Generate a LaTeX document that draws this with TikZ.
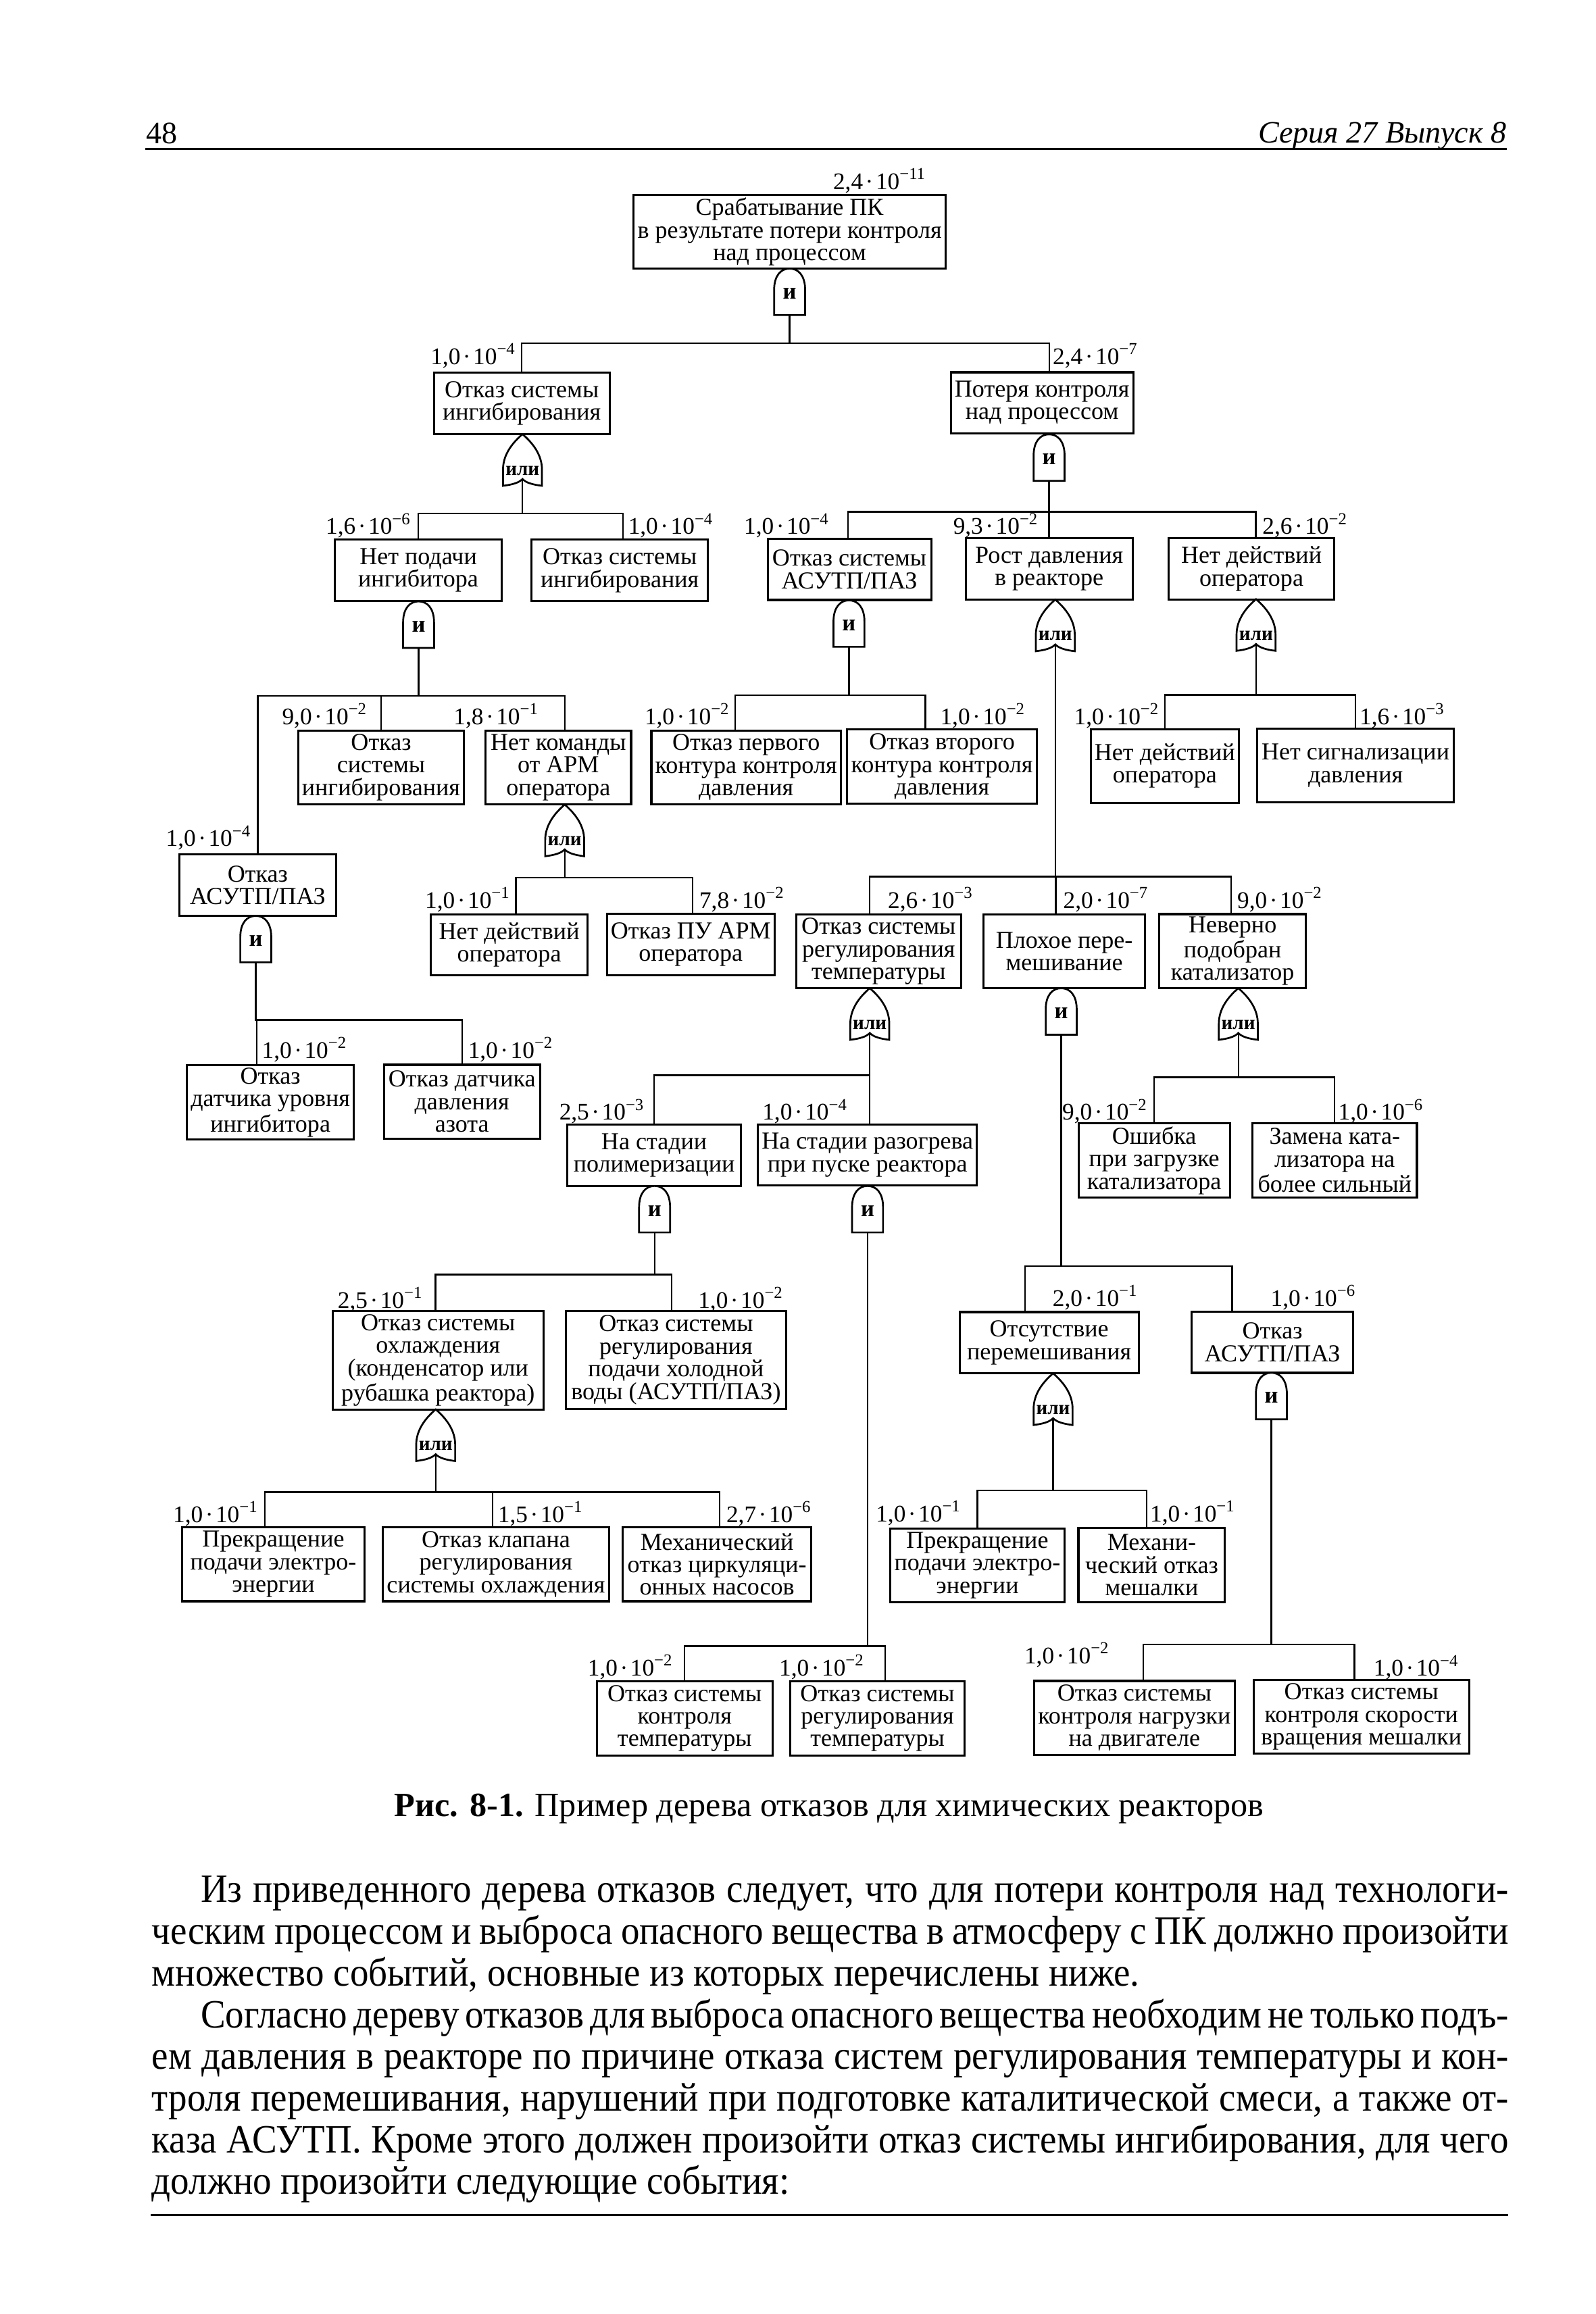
\documentclass[tikz,border=0pt]{standalone}
\usepackage{fontspec}
\setmainfont{Liberation Serif}
\newfontfamily\condfont[FakeStretch=0.925]{Liberation Serif}
\usetikzlibrary{calc}
\newcommand{\boxfont}{\fontsize{9.4}{8.7}\selectfont}
\newcommand{\probfont}{\fontsize{9.2}{10}\selectfont}
\newcommand{\headfont}{\fontsize{12}{14}\selectfont}
\newcommand{\pv}[2]{#1\kern.1em·\kern.1em10\textsuperscript{−#2}}
\tikzset{
  event/.style={draw,line width=0.8pt,fill=white,align=center,inner xsep=1.5pt,inner ysep=0pt,font=\boxfont},
  ev2/.style={event,minimum height=0.83cm},
  ev3/.style={event,minimum height=1.0cm},
  ev4/.style={event,minimum height=1.33cm},
  bw/.style={minimum width=#1*0.02cm},
  prob/.style={inner sep=0pt,font=\probfont},
  conn/.style={line width=0.6pt},
  rulel/.style={line width=0.9pt},
  gateline/.style={line width=0.7pt,fill=white},
  gatetext/.style={inner sep=0pt,font=\bfseries\fontsize{9}{9}\selectfont},
  headtext/.style={inner sep=0pt,font=\headfont},
  bodyline/.style={inner sep=0pt,font=\condfont\fontsize{15.5}{16}\selectfont},
  andgate/.pic={
    \draw[gateline] (-10.5,0) -- (-10.5,-17) .. controls (-10.5,-27) and (-5.8,-31.5) .. (0,-31.5)
      .. controls (5.8,-31.5) and (10.5,-27) .. (10.5,-17) -- (10.5,0) -- cycle;
    \node[gatetext] at (0,-14.5) {и};
    \coordinate (-out) at (0,0);
  },
  orgate/.pic={
    \draw[gateline] (-13.2,0) -- (-13.2,-11) .. controls (-13.2,-21) and (-7,-29) .. (0,-35)
      .. controls (7,-29) and (13.2,-21) .. (13.2,-11) -- (13.2,0)
      .. controls (7,-0.8) and (2.5,-2) .. (0,-4.6) .. controls (-2.5,-2) and (-7,-0.8) .. (-13.2,0) -- cycle;
    \node[gatetext,font=\bfseries\fontsize{7.6}{8}\selectfont] at (0,-10.3) {или};
    \coordinate (-out) at (0,-4.6);
  },
}

\begin{document}
\begin{tikzpicture}[x=0.02cm,y=-0.02cm]
  \fill[white] (0,0) rectangle (1081,1568);
  \useasboundingbox (0,0) rectangle (1081,1568);

  % running head
  \node[headtext,anchor=base west] (pgno) at (98.9,97.3) {48};
  \node[headtext,anchor=base east,font=\headfont\itshape] (series) at (1021,96.8) {Серия 27 Выпуск 8};
  \draw[rulel] (98.6,100.9) -- (1021,100.9);

  % events
  \node[ev3,bw=204] (top) at (535,157.1) {Срабатывание ПК\\в результате потери контроля\\над процессом};
  \node[ev2,bw=119] (inh) at (353.5,273.3) {Отказ системы\\ингибирования};
  \node[ev2,bw=122] (loss) at (706,273) {Потеря контроля\\над процессом};
  \node[ev2,bw=113] (nofeed) at (283.4,386.5) {Нет подачи\\ингибитора};
  \node[ev2,bw=119.4] (inhb) at (419.9,386.5) {Отказ системы\\ингибирования};
  \node[ev2,bw=110.8] (apcsa) at (575.5,385.8) {Отказ системы\\АСУТП/ПАЗ};
  \node[ev2,bw=113] (press) at (710.8,385.5) {Рост давления\\в реакторе};
  \node[ev2,bw=112.4] (noopa) at (847.9,385.4) {Нет действий\\оператора};
  \node[ev3,bw=112] (inhc) at (258.2,520) {Отказ\\системы\\ингибирования};
  \node[ev3,bw=98.6] (nocmd) at (378.3,520) {Нет команды\\от АРМ\\оператора};
  \node[ev3,bw=123.7] (loopa) at (505.5,520) {Отказ первого\\контура контроля\\давления};
  \node[ev3,bw=125.3] (loopb) at (638.2,519.4) {Отказ второго\\контура контроля\\давления};
  \node[ev3,bw=99.6] (noopb) at (789.2,519) {Нет действий\\оператора};
  \node[ev3,bw=133.2] (noalarm) at (918.4,518.8) {Нет сигнализации\\давления};
  \node[ev2,bw=105.9] (apcsb) at (174.6,599.8) {Отказ\\АСУТП/ПАЗ};
  \node[ev2,bw=105.9] (noopc) at (345,640.3) {Нет действий\\оператора};
  \node[ev2,bw=111.7] (pu) at (468,640.1) {Отказ ПУ АРМ\\оператора};
  \node[ev3,bw=111.7] (tempreg) at (595.3,644.7) {Отказ системы\\регулирования\\температуры};
  \node[ev3,bw=109.2] (mixbad) at (721.1,644.7) {Плохое пере-\\мешивание};
  \node[ev3,bw=99.6] (catbad) at (835.1,644.4) {Неверно\\подобран\\катализатор};
  \node[ev3,bw=113] (senslvl) at (183.2,746.9) {Отказ\\датчика уровня\\ингибитора};
  \node[ev3,bw=105.9] (sensn2) at (313,746.5) {Отказ датчика\\давления\\азота};
  \node[ev2,bw=117.9] (poly) at (443.2,782.9) {На стадии\\полимеризации};
  \node[ev2,bw=144.2] (heat) at (587.7,782.6) {На стадии разогрева\\при пуске реактора};
  \node[ev3,bw=102.5] (catload) at (782,786.3) {Ошибка\\при загрузке\\катализатора};
  \node[ev3,bw=111.4] (catrepl) at (904.3,786.3) {Замена ката-\\лизатора на\\более сильный};
  \node[ev4,bw=142.9] (cool) at (296.8,921.8) {Отказ системы\\охлаждения\\(конденсатор или\\рубашка реактора)};
  \node[ev4,bw=149.3] (water) at (458,921.5) {Отказ системы\\регулирования\\подачи холодной\\воды (АСУТП/ПАЗ)};
  \node[ev2,bw=121.4] (nomix) at (710.8,909.8) {Отсутствие\\перемешивания};
  \node[ev2,bw=109.2] (apcsc) at (862.1,909.5) {Отказ\\АСУТП/ПАЗ};
  \node[ev3,bw=123.9] (powa) at (185.2,1060) {Прекращение\\подачи электро-\\энергии};
  \node[ev3,bw=152.9] (valve) at (336,1060) {Отказ клапана\\регулирования\\системы охлаждения};
  \node[ev3,bw=127.5] (pump) at (485.8,1060) {Механический\\отказ циркуляци-\\онных насосов};
  \node[ev3,bw=117.2] (powb) at (662.2,1060.6) {Прекращение\\подачи электро-\\энергии};
  \node[ev3,bw=99.3] (mech) at (780.3,1060.5) {Механи-\\ческий отказ\\мешалки};
  \node[ev3,bw=118.8] (tctl) at (463.9,1164.4) {Отказ системы\\контроля\\температуры};
  \node[ev3,bw=117.9] (treg) at (594.5,1164.4) {Отказ системы\\регулирования\\температуры};
  \node[ev3,bw=134.2] (load) at (768.6,1164) {Отказ системы\\контроля нагрузки\\на двигателе};
  \node[ev3,bw=145.8] (speed) at (922.4,1163.4) {Отказ системы\\контроля скорости\\вращения мешалки};

  % gates
  \pic (gtop) at (535,213.5) {andgate};
  \pic (ginh) at (354,329.2) {orgate};
  \pic (gloss) at (710.8,325.8) {andgate};
  \pic (gnofeed) at (283.6,439) {andgate};
  \pic (gapcsa) at (575.2,438.3) {andgate};
  \pic (gpress) at (715,441.3) {orgate};
  \pic (gnoopa) at (851,441) {orgate};
  \pic (gnocmd) at (382.6,580.2) {orgate};
  \pic (gapcsb) at (173.3,652.1) {andgate};
  \pic (gtempreg) at (589.3,704.6) {orgate};
  \pic (gmixbad) at (719,701.1) {andgate};
  \pic (gcatbad) at (839,704.6) {orgate};
  \pic (gpoly) at (443.5,835.1) {andgate};
  \pic (gheat) at (587.8,835.1) {andgate};
  \pic (gcool) at (295.2,990) {orgate};
  \pic (gnomix) at (713.5,965.6) {orgate};
  \pic (gapcsc) at (861.4,961.7) {andgate};

  % junctions
  \coordinate (jtop) at (535,232.5);
  \coordinate (jinh) at (354,347.8);
  \coordinate (jloss) at (710.8,346.8);
  \coordinate (jnofeed) at (283.6,471.6);
  \coordinate (japcsa) at (575.2,471.1);
  \coordinate (jnoopa) at (851,470.8);
  \coordinate (jnocmd) at (382.6,594.6);
  \coordinate (jpress) at (715,594);
  \coordinate (japcsb) at (173.3,691);
  \coordinate (jtempreg) at (589.3,728.6);
  \coordinate (jcatbad) at (839,730);
  \coordinate (jpoly) at (443.5,863.6);
  \coordinate (jmixbad) at (719,858);
  \coordinate (jcool) at (295.2,1011.1);
  \coordinate (jnomix) at (713.5,1009.9);
  \coordinate (jheat) at (587.8,1115.5);
  \coordinate (japcsc) at (861.4,1114.4);

  % connectors
  \draw[conn] (gtop-out) -- (jtop) -| (inh.north);
  \draw[conn] (gtop-out) -- (jtop) -| ($(loss.north)+(5,0)$);
  \draw[conn] (ginh-out) -- (jinh) -| (nofeed.north);
  \draw[conn] (ginh-out) -- (jinh) -| ($(inhb.north)+(2.2,0)$);
  \draw[conn] (gloss-out) -- (jloss) -| ($(apcsa.north)+(-0.8,0)$);
  \draw[conn] (gloss-out) -- (jloss) -| (press.north);
  \draw[conn] (gloss-out) -- (jloss) -| ($(noopa.north)+(2.9,0)$);
  \draw[conn] (gnofeed-out) -- (jnofeed) -| (apcsb.north);
  \draw[conn] (gnofeed-out) -- (jnofeed) -| (inhc.north);
  \draw[conn] (gnofeed-out) -- (jnofeed) -| ($(nocmd.north)+(4.3,0)$);
  \draw[conn] (gapcsa-out) -- (japcsa) -| ($(loopa.north)+(-7.3,0)$);
  \draw[conn] (gapcsa-out) -- (japcsa) -| ($(loopb.north)+(-11.2,0)$);
  \draw[conn] (gnoopa-out) -- (jnoopa) -| (noopb.north);
  \draw[conn] (gnoopa-out) -- (jnoopa) -| (noalarm.north);
  \draw[conn] (gnocmd-out) -- (jnocmd) -| ($(noopc.north)+(4.6,0)$);
  \draw[conn] (gnocmd-out) -- (jnocmd) -| ($(pu.north)+(1.3,0)$);
  \draw[conn] (gpress-out) -- (jpress) -| ($(tempreg.north)+(-6.2,0)$);
  \draw[conn] (gpress-out) -- (jpress) -| ($(mixbad.north)+(-5.8,0)$);
  \draw[conn] (gpress-out) -- (jpress) -| ($(catbad.north)+(-1,0)$);
  \draw[conn] (gapcsb-out) -- (japcsb) -| ($(senslvl.north)+(-9.3,0)$);
  \draw[conn] (gapcsb-out) -- (japcsb) -| (sensn2.north);
  \draw[conn] (gtempreg-out) -- (jtempreg) -| (poly.north);
  \draw[conn] (gtempreg-out) -- (jtempreg) -| ($(heat.north)+(1.4,0)$);
  \draw[conn] (gcatbad-out) -- (jcatbad) -| (catload.north);
  \draw[conn] (gcatbad-out) -- (jcatbad) -| (catrepl.north);
  \draw[conn] (gpoly-out) -- (jpoly) -| ($(cool.north)+(-1.8,0)$);
  \draw[conn] (gpoly-out) -- (jpoly) -| ($(water.north)+(-3.1,0)$);
  \draw[conn] (gmixbad-out) -- (jmixbad) -| ($(nomix.north)+(-16.3,0)$);
  \draw[conn] (gmixbad-out) -- (jmixbad) -| ($(apcsc.north)+(-27.3,0)$);
  \draw[conn] (gcool-out) -- (jcool) -| ($(powa.north)+(-5.8,0)$);
  \draw[conn] (gcool-out) -- (jcool) -| ($(valve.north)+(-2.2,0)$);
  \draw[conn] (gcool-out) -- (jcool) -| ($(pump.north)+(1.8,0)$);
  \draw[conn] (gnomix-out) -- (jnomix) -| (powb.north);
  \draw[conn] (gnomix-out) -- (jnomix) -| ($(mech.north)+(-3.3,0)$);
  \draw[conn] (gheat-out) -- (jheat) -| (tctl.north);
  \draw[conn] (gheat-out) -- (jheat) -| ($(treg.north)+(5.2,0)$);
  \draw[conn] (gapcsc-out) -- (japcsc) -| ($(load.north)+(6.1,0)$);
  \draw[conn] (gapcsc-out) -- (japcsc) -| ($(speed.north)+(-4.8,0)$);

  % probabilities
  \node[prob,anchor=base east] (ptop) at (628,128.3) {\pv{2,4}{11}};
  \node[prob,anchor=base east] (pinh) at (350,247) {\pv{1,0}{4}};
  \node[prob,anchor=base west] (ploss) at (713,247) {\pv{2,4}{7}};
  \node[prob,anchor=base east] (pnofeed) at (279,362) {\pv{1,6}{6}};
  \node[prob,anchor=base west] (pinhb) at (425.3,362) {\pv{1,0}{4}};
  \node[prob,anchor=base east] (papcsa) at (562.4,362) {\pv{1,0}{4}};
  \node[prob,anchor=base east] (ppress) at (704.1,362) {\pv{9,3}{2}};
  \node[prob,anchor=base west] (pnoopa) at (855,362) {\pv{2,6}{2}};
  \node[prob,anchor=base east] (pinhc) at (249.4,491) {\pv{9,0}{2}};
  \node[prob,anchor=base east] (pnocmd) at (365.6,491) {\pv{1,8}{1}};
  \node[prob,anchor=base east] (ploopa) at (495,491) {\pv{1,0}{2}};
  \node[prob,anchor=base west] (ploopb) at (636.7,491) {\pv{1,0}{2}};
  \node[prob,anchor=base east] (pnoopb) at (786,491) {\pv{1,0}{2}};
  \node[prob,anchor=base west] (pnoalarm) at (920.8,491) {\pv{1,6}{3}};
  \node[prob,anchor=base east] (papcsb) at (170.7,573.5) {\pv{1,0}{4}};
  \node[prob,anchor=base east] (pnoopc) at (346.3,615.3) {\pv{1,0}{1}};
  \node[prob,anchor=base west] (ppu) at (473.5,615.3) {\pv{7,8}{2}};
  \node[prob,anchor=base west] (ptempreg) at (601.3,615.3) {\pv{2,6}{3}};
  \node[prob,anchor=base west] (pmixbad) at (720.1,615.3) {\pv{2,0}{7}};
  \node[prob,anchor=base west] (pcatbad) at (838,615.3) {\pv{9,0}{2}};
  \node[prob,anchor=base west] (psenslvl) at (177.1,717) {\pv{1,0}{2}};
  \node[prob,anchor=base west] (psensn2) at (316.8,717) {\pv{1,0}{2}};
  \node[prob,anchor=base east] (ppoly) at (437.2,759) {\pv{2,5}{3}};
  \node[prob,anchor=base west] (pheat) at (516.2,759) {\pv{1,0}{4}};
  \node[prob,anchor=base east] (pcatload) at (778,759) {\pv{9,0}{2}};
  \node[prob,anchor=base west] (pcatrepl) at (906.4,759) {\pv{1,0}{6}};
  \node[prob,anchor=base west] (pcool) at (228.5,886.4) {\pv{2,5}{1}};
  \node[prob,anchor=base east] (pwater) at (531.3,886.4) {\pv{1,0}{2}};
  \node[prob,anchor=base east] (pnomix) at (771.5,885) {\pv{2,0}{1}};
  \node[prob,anchor=base east] (papcsc) at (919.2,885) {\pv{1,0}{6}};
  \node[prob,anchor=base east] (ppowa) at (175.5,1031.5) {\pv{1,0}{1}};
  \node[prob,anchor=base west] (pvalve) at (337,1031.5) {\pv{1,5}{1}};
  \node[prob,anchor=base west] (ppump) at (491.8,1031.5) {\pv{2,7}{6}};
  \node[prob,anchor=base east] (ppowb) at (651.7,1031) {\pv{1,0}{1}};
  \node[prob,anchor=base west] (pmech) at (778.9,1031) {\pv{1,0}{1}};
  \node[prob,anchor=base east] (ptctl) at (456.5,1135.5) {\pv{1,0}{2}};
  \node[prob,anchor=base east] (ptreg) at (586.2,1135.5) {\pv{1,0}{2}};
  \node[prob,anchor=base east] (pload) at (752.3,1127.4) {\pv{1,0}{2}};
  \node[prob,anchor=base east] (pspeed) at (988.9,1135.8) {\pv{1,0}{4}};

  % caption
  \node[inner sep=0pt,anchor=base,font=\fontsize{13.1}{16}\selectfont] (caption) at (561.8,1231)
    {\textbf{Рис. 8-1.} Пример дерева отказов для химических реакторов};

  % body text
  \node[bodyline,anchor=base west] (lna) at (135.7,1289.1) {\makebox[17.726cm][s]{Из приведенного дерева отказов следует, что для потери контроля над технологи-}};
  \node[bodyline,anchor=base west] (lnb) at (102.6,1317.4) {\makebox[18.388cm][s]{ческим процессом и выброса опасного вещества в атмосферу с ПК должно произойти}};
  \node[bodyline,anchor=base west] (lnc) at (102.6,1345.6) {множество событий, основные из которых перечислены ниже.};
  \node[bodyline,anchor=base west] (lnd) at (135.7,1373.9) {\makebox[17.726cm][s]{Согласно дереву отказов для выброса опасного вещества необходим не только подъ-}};
  \node[bodyline,anchor=base west] (lne) at (102.6,1402.1) {\makebox[18.388cm][s]{ем давления в реакторе по причине отказа систем регулирования температуры и кон-}};
  \node[bodyline,anchor=base west] (lnf) at (102.6,1430.4) {\makebox[18.388cm][s]{троля перемешивания, нарушений при подготовке каталитической смеси, а также от-}};
  \node[bodyline,anchor=base west] (lng) at (102.6,1458.7) {\makebox[18.388cm][s]{каза АСУТП. Кроме этого должен произойти отказ системы ингибирования, для чего}};
  \node[bodyline,anchor=base west] (lnh) at (102.6,1486.9) {должно произойти следующие события:};
  \draw[rulel] (102.2,1501) -- (1022,1501);
\end{tikzpicture}
\end{document}
